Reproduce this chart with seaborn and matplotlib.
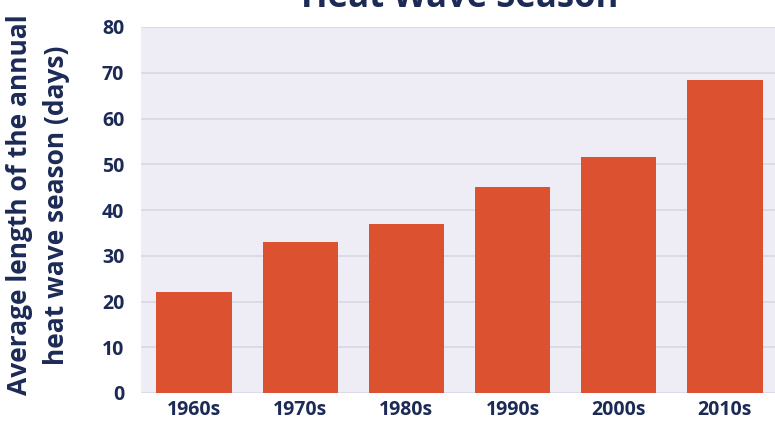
import matplotlib
matplotlib.use("Agg")
import matplotlib.pyplot as plt
import seaborn as sns
import pandas as pd

# Average length of the annual heat wave season, by decade
decades = ["1960s", "1970s", "1980s", "1990s", "2000s", "2010s"]
season_days = [22, 33, 37, 45, 51.5, 68.5]
y_ticks = [0, 10, 20, 30, 40, 50, 60, 70, 80]

navy = "#1C2A56"
bar_color = "#DC5130"
panel = "#EEEDF5"
grid = "#D9D8E2"

sns.set_theme(style="white")
plt.rcParams["font.family"] = ["Open Sans", "DejaVu Sans"]

df = pd.DataFrame({"decade": decades, "days": season_days})

fig = plt.figure(figsize=(7.75, 4.25), dpi=100)
W, H = 775, 425
ax = fig.add_axes([141 / W, (H - 393) / H, (778 - 141) / W, (393 - 27) / H])
ax.set_facecolor(panel)

sns.barplot(data=df, x="decade", y="days", color=bar_color, saturation=1,
            width=0.71, linewidth=0, ax=ax, zorder=3)

ax.set_ylim(0, 80)
ax.set_xlim(-0.5, len(decades) - 0.5)
ax.set_yticks(y_ticks)
ax.yaxis.grid(True, color=grid, linewidth=1.2, zorder=0)
ax.set_axisbelow(True)
for s in ax.spines.values():
    s.set_visible(False)

ax.tick_params(axis="both", length=0, labelsize=14, labelcolor=navy)
ax.tick_params(axis="y", pad=12)
ax.tick_params(axis="x", pad=5)
for lbl in ax.get_xticklabels() + ax.get_yticklabels():
    lbl.set_fontweight("bold")

ax.set_xlabel("")
ax.set_ylabel("")

fig.text(20 / W, 1 - 205 / H, "Average length of the annual", rotation=90,
         ha="center", va="center", fontsize=19, fontweight="bold", color=navy)
fig.text(57 / W, 1 - 205 / H, "heat wave season (days)", rotation=90,
         ha="center", va="center", fontsize=19, fontweight="bold", color=navy)

fig.text(460 / W, 1 - 7 / H, "Heat Wave Season", ha="center", va="baseline",
         fontsize=25, fontweight="bold", color=navy)

fig.savefig("out.png", dpi=100, facecolor="white")
